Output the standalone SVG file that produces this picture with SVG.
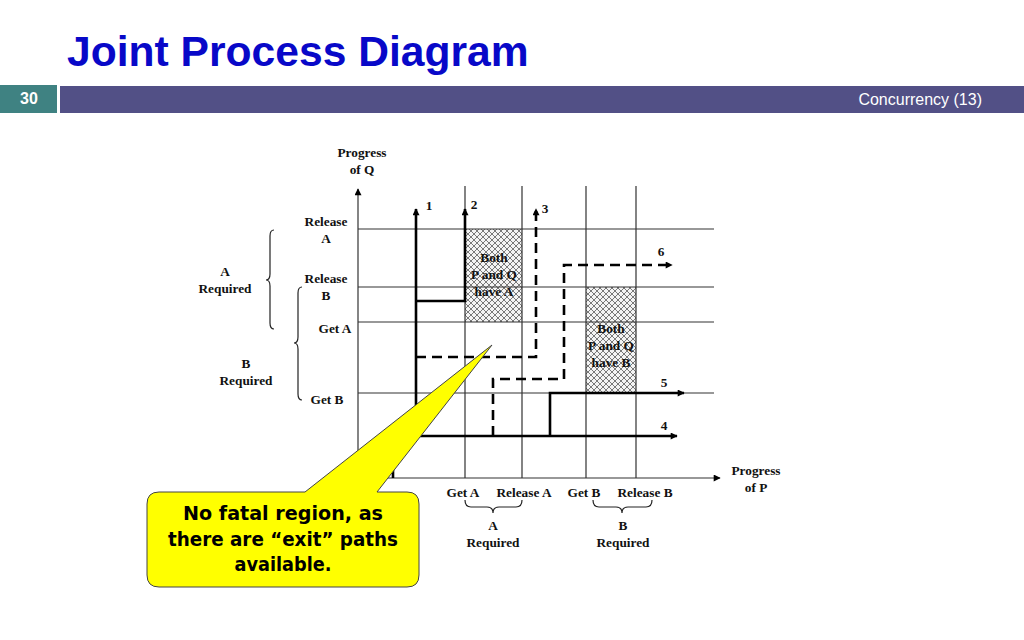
<svg xmlns="http://www.w3.org/2000/svg" width="1024" height="640" viewBox="0 0 1024 640">
<defs>
<style>
.lbl{font-family:"Liberation Serif","Times New Roman",serif;font-weight:bold;font-size:13.3px;fill:#111;text-anchor:middle}
.grid{stroke:#333;stroke-width:1.2;fill:none}
.path{stroke:#000;stroke-width:2.6;fill:none}
.dash{stroke:#000;stroke-width:2.6;fill:none;stroke-dasharray:10 6}
.brace{stroke:#222;stroke-width:1.2;fill:none}
</style>
<marker id="ah" viewBox="0 0 10 10" refX="9" refY="5" markerWidth="9" markerHeight="7" markerUnits="userSpaceOnUse" orient="auto">
<path d="M0,0 L10,5 L0,10 Z" fill="#000"/>
</marker>
<pattern id="hatch" width="6" height="6" patternUnits="userSpaceOnUse">
<rect width="6" height="6" fill="#f4f4f4"/>
<path d="M0,0 L6,6 M6,0 L0,6" stroke="#444" stroke-width="0.7"/>
</pattern>
</defs>
<rect width="1024" height="640" fill="#fff"/>
<g id="title">
<text x="67" y="66" font-family="Liberation Sans, Arial, sans-serif" font-weight="bold" font-size="42.6" fill="#0808C8">Joint Process Diagram</text>
</g>
<g id="header">
<rect x="0" y="85" width="57" height="28" fill="#3F8282"/>
<rect x="60" y="86" width="964" height="27" fill="#525086"/>
<text x="29" y="104" font-family="Liberation Sans, Arial, sans-serif" font-weight="bold" font-size="16" fill="#fff" text-anchor="middle">30</text>
<text x="982" y="105" font-family="Liberation Sans, Arial, sans-serif" font-size="16" fill="#fff" text-anchor="end">Concurrency (13)</text>
</g>
<g id="regions">
<rect id="regionA" x="465" y="229" width="57" height="93" fill="url(#hatch)"/>
<rect id="regionB" x="586" y="287" width="50" height="106" fill="url(#hatch)"/>
</g>
<g id="grid">
<path class="grid" d="M358,229 H714 M358,287 H714 M358,322 H714 M358,393 H714"/>
<path class="grid" d="M465,186 V478 M522,186 V478 M586,186 V478 M636,186 V478"/>
</g>
<g id="axes">
<path class="grid" d="M358,478 V189" marker-end="url(#ah)"/>
<path class="grid" d="M358,478 H720" marker-end="url(#ah)"/>
</g>
<g id="connectors">
<path class="path" d="M393,478 V436 H677" marker-end="url(#ah)"/>
<path class="path" d="M416,436 V209" marker-end="url(#ah)"/>
<path class="path" d="M416,301 H465 V209" marker-end="url(#ah)"/>
<path class="path" d="M550,436 V393 H684" marker-end="url(#ah)"/>
<path class="dash" d="M416,357 H536 V209" marker-end="url(#ah)"/>
<path class="dash" d="M493,436 V379 H564 V265 H672" marker-end="url(#ah)"/>
</g>
<g id="path-labels">
<text class="lbl" x="429" y="210">1</text>
<text class="lbl" x="474" y="209">2</text>
<text class="lbl" x="545" y="213">3</text>
<text class="lbl" x="661" y="256">6</text>
<text class="lbl" x="664" y="387">5</text>
<text class="lbl" x="664" y="430">4</text>
</g>
<g id="region-labels">
<text class="lbl" x="494" y="262">Both</text>
<text class="lbl" x="494" y="279">P and Q</text>
<text class="lbl" x="494" y="296">have A</text>
<text class="lbl" x="611" y="333">Both</text>
<text class="lbl" x="611" y="350">P and Q</text>
<text class="lbl" x="611" y="367">have B</text>
</g>
<g id="q-labels">
<text class="lbl" x="362" y="157">Progress</text>
<text class="lbl" x="362" y="174">of Q</text>
<text class="lbl" x="326" y="226">Release</text>
<text class="lbl" x="326" y="243">A</text>
<text class="lbl" x="326" y="283">Release</text>
<text class="lbl" x="326" y="300">B</text>
<text class="lbl" x="335" y="333">Get A</text>
<text class="lbl" x="327" y="404">Get B</text>
<text class="lbl" x="225" y="276">A</text>
<text class="lbl" x="225" y="293">Required</text>
<text class="lbl" x="246" y="368">B</text>
<text class="lbl" x="246" y="385">Required</text>
<path class="brace" d="M274,230 Q270,230 270,236 V274 Q270,280 266,280 Q270,280 270,286 V323 Q270,329 274,329"/>
<path class="brace" d="M302,287 Q298,287 298,293 V337 Q298,343 294,343 Q298,343 298,349 V394 Q298,400 302,400"/>
</g>
<g id="p-labels">
<text class="lbl" x="463" y="497">Get A</text>
<text class="lbl" x="524" y="497">Release A</text>
<text class="lbl" x="584" y="497">Get B</text>
<text class="lbl" x="645" y="497">Release B</text>
<text class="lbl" x="756" y="475">Progress</text>
<text class="lbl" x="756" y="492">of P</text>
<text class="lbl" x="493" y="530">A</text>
<text class="lbl" x="493" y="547">Required</text>
<text class="lbl" x="623" y="530">B</text>
<text class="lbl" x="623" y="547">Required</text>
<path class="brace" d="M465,500 Q465,507 471,507 H487 Q493,507 493,513 Q493,507 499,507 H516 Q522,507 522,500"/>
<path class="brace" d="M593,500 Q593,507 599,507 H616 Q622,507 622,513 Q622,507 628,507 H646 Q652,507 652,500"/>
</g>
<g id="callout">
<path d="M159,492 H305 L492,345 L377,492 H407 Q419,492 419,504 V575 Q419,587 407,587 H159 Q147,587 147,575 V504 Q147,492 159,492 Z" fill="#FFFF00" stroke="#444" stroke-width="1"/>
<g font-family="Comic Sans MS, DejaVu Sans, sans-serif" font-weight="bold" font-size="19" fill="#000" text-anchor="middle">
<text x="283" y="520" textLength="200" lengthAdjust="spacingAndGlyphs">No fatal region, as</text>
<text x="283" y="546" textLength="230" lengthAdjust="spacingAndGlyphs">there are “exit” paths</text>
<text x="283" y="571" textLength="97" lengthAdjust="spacingAndGlyphs">available.</text>
</g>
</g>
</svg>
